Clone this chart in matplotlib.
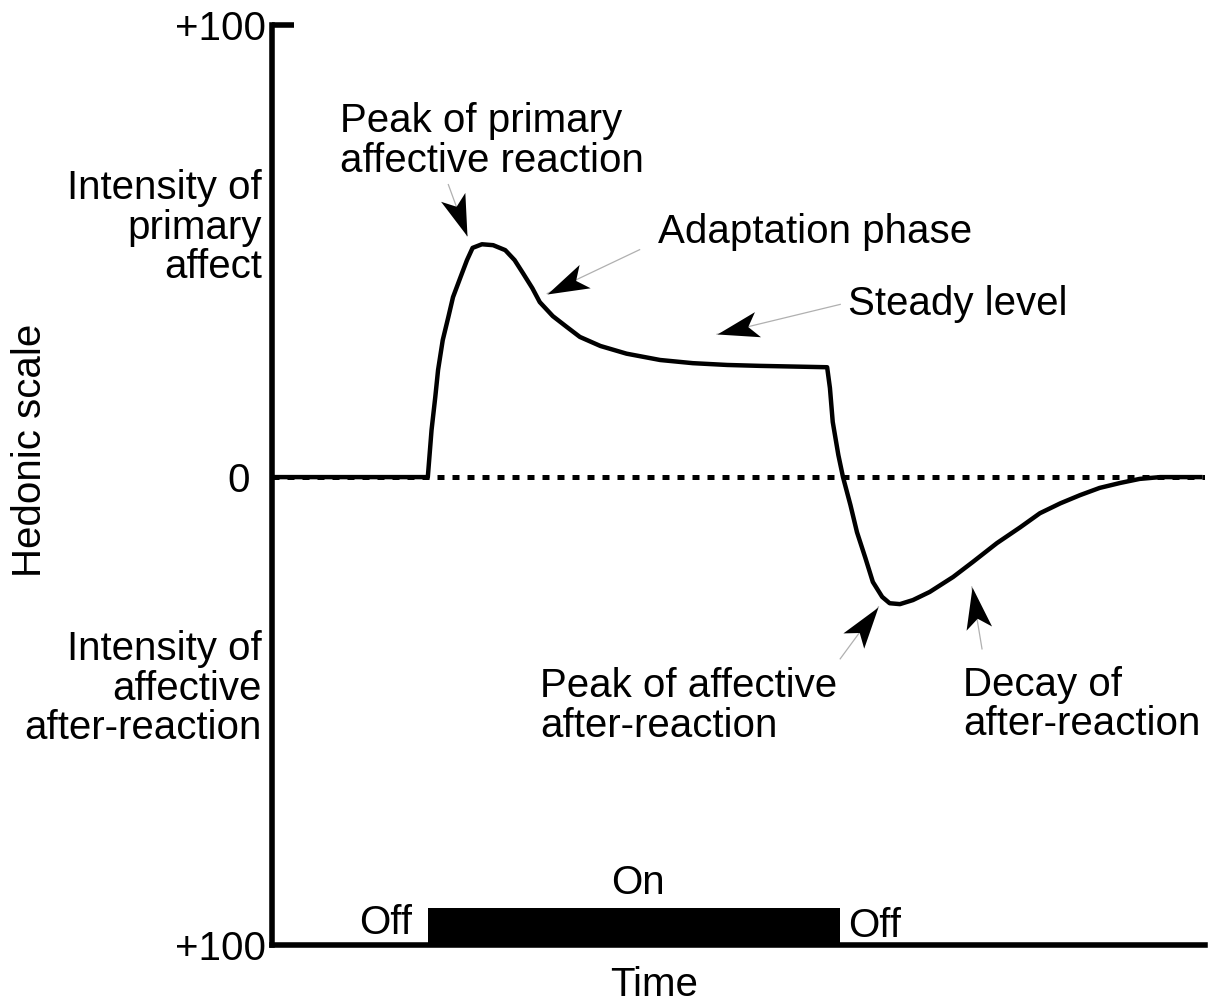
"""
Opponent-process hedonic response to a stimulus switched on and off.
"""

import numpy as np
import matplotlib
matplotlib.use("Agg")
import matplotlib.pyplot as plt
from matplotlib.markers import MarkerStyle
from matplotlib.path import Path
from matplotlib.transforms import Affine2D

plt.rcParams["font.family"] = ["Liberation Sans", "DejaVu Sans"]

# --- Data (time 0-100, hedonic scale +100 / -100) ---
time = [0.3, 16.7, 17.1, 17.5, 17.8, 18.3, 18.9, 19.4, 20.2, 20.9, 21.5, 22.5,
        23.7, 25.0, 26.0, 26.9, 27.9, 28.7, 30.1, 31.6, 33.0, 35.2, 38.0, 41.6,
        45.1, 48.8, 52.3, 59.5, 59.8, 60.1, 60.7, 61.2, 62.0, 62.7, 63.6, 64.4,
        65.4, 66.2, 67.3, 68.7, 70.5, 73.0, 75.1, 77.7, 80.2, 82.3, 84.5, 86.6,
        88.7, 90.9, 93.0, 95.2, 97.3, 99.5]
hedonic = [0, 0, 10.4, 17.7, 23.7, 30.3, 35.4, 39.8, 44.2, 48.0, 50.7, 51.5,
           51.3, 50.2, 48.0, 45.1, 41.8, 38.7, 35.6, 33.2, 31.0, 29.0, 27.3, 25.9,
           25.2, 24.8, 24.6, 24.3, 19.7, 12.2, 4.9, 0, -6.2, -12.2, -17.9, -23.2,
           -26.5, -27.9, -28.1, -27.2, -25.4, -22.1, -18.8, -14.6, -11.1, -8.0,
           -5.8, -4.0, -2.4, -1.3, -0.4, 0, 0, 0]

stim_on = 16.7
stim_off = 60.9
y_min, y_max = -103.5, 100

# annotation: text, text anchor (x, y), line tail (x, y), arrow tip (x, y)
notes = [
    ("Peak of primary\naffective reaction", (7.3, 74.3), (18.9, 64.7), (20.9, 53.4)),
    ("Adaptation phase", (41.4, 54.3), (39.4, 50.3), (29.5, 40.6)),
    ("Steady level", (61.7, 38.2), (60.9, 38.2), (47.7, 31.6)),
    ("Peak of affective\nafter-reaction", (28.7, -50.6), (60.9, -40.2), (65.0, -28.7)),
    ("Decay of\nafter-reaction", (74.1, -50.3), (76.1, -38.0), (75.0, -24.3)),
]

FS = 29

fig = plt.figure(figsize=(12.13, 10.02), dpi=100)
ax = fig.add_axes([272 / 1213, 57 / 1002, 933 / 1213, 920 / 1002])
ax.set_xlim(0, 100)
ax.set_ylim(y_min, y_max)

# spines
for side in ("top", "right"):
    ax.spines[side].set_visible(False)
for side in ("left", "bottom"):
    ax.spines[side].set_linewidth(4)
    ax.spines[side].set_capstyle("projecting")

ax.set_xticks([])
ax.set_yticks([y_min, 0, y_max])
ax.set_yticklabels(["+100", "0", "+100"], fontsize=FS)
ax.tick_params(axis="y", direction="in", length=16, width=4, pad=4)
ticks = ax.yaxis.get_major_ticks()
ticks[0].tick1line.set_visible(False)
ticks[1].tick1line.set_visible(False)
ticks[1].set_pad(16)

# zero line and response curve
ax.axhline(0, color="black", lw=3.6, linestyle=(0, (1.4, 1.6)), zorder=1)
ax.plot(time, hedonic, color="black", lw=3.2, solid_joinstyle="round", zorder=3)

# stimulus bar
ax.bar((stim_on + stim_off) / 2, 8.2, width=stim_off - stim_on, bottom=y_min,
       color="black", clip_on=False)
ax.text(stim_on - 1.7, -98.7, "Off", ha="right", va="center", fontsize=FS)
ax.text(stim_off + 0.8, -99.3, "Off", ha="left", va="center", fontsize=FS)
ax.text(39.2, -89.8, "On", ha="center", va="center", fontsize=FS)

# axis titles
ax.text(41.0, -112.3, "Time", ha="center", va="center", fontsize=FS, clip_on=False)
fig.text(30 / 1213, 1 - 450 / 1002, "Hedonic scale", rotation=90,
         ha="center", va="center", fontsize=FS)

ax.text(-1.1, 55.2, "Intensity of\nprimary\naffect", ha="right", va="center",
        fontsize=FS, linespacing=1.05, clip_on=False)
ax.text(-1.1, -46.8, "Intensity of\naffective\nafter-reaction", ha="right",
        va="center", fontsize=FS, linespacing=1.05, clip_on=False)

# arrow-head marker (tip at origin, pointing +x)
head_path = Path([(0, 0), (-1, 0.31), (-0.76, 0), (-1, -0.31), (0, 0)],
                 [Path.MOVETO, Path.LINETO, Path.LINETO, Path.LINETO, Path.CLOSEPOLY])

for label, (tx, ty), tail, tip in notes:
    ax.text(tx, ty, label, ha="left", va="center", fontsize=FS, linespacing=1.05)
    ax.plot([tail[0], tip[0]], [tail[1], tip[1]], color="#b0b0b0", lw=0.9, zorder=2)
    p0 = ax.transData.transform(tail)
    p1 = ax.transData.transform(tip)
    ang = np.degrees(np.arctan2(p1[1] - p0[1], p1[0] - p0[0]))
    mk = MarkerStyle(head_path, transform=Affine2D().rotate_deg(ang))
    ax.plot(tip[0], tip[1], marker=mk, markersize=60, color="black",
            markeredgewidth=0, zorder=4)

fig.savefig("out.png", dpi=100)
